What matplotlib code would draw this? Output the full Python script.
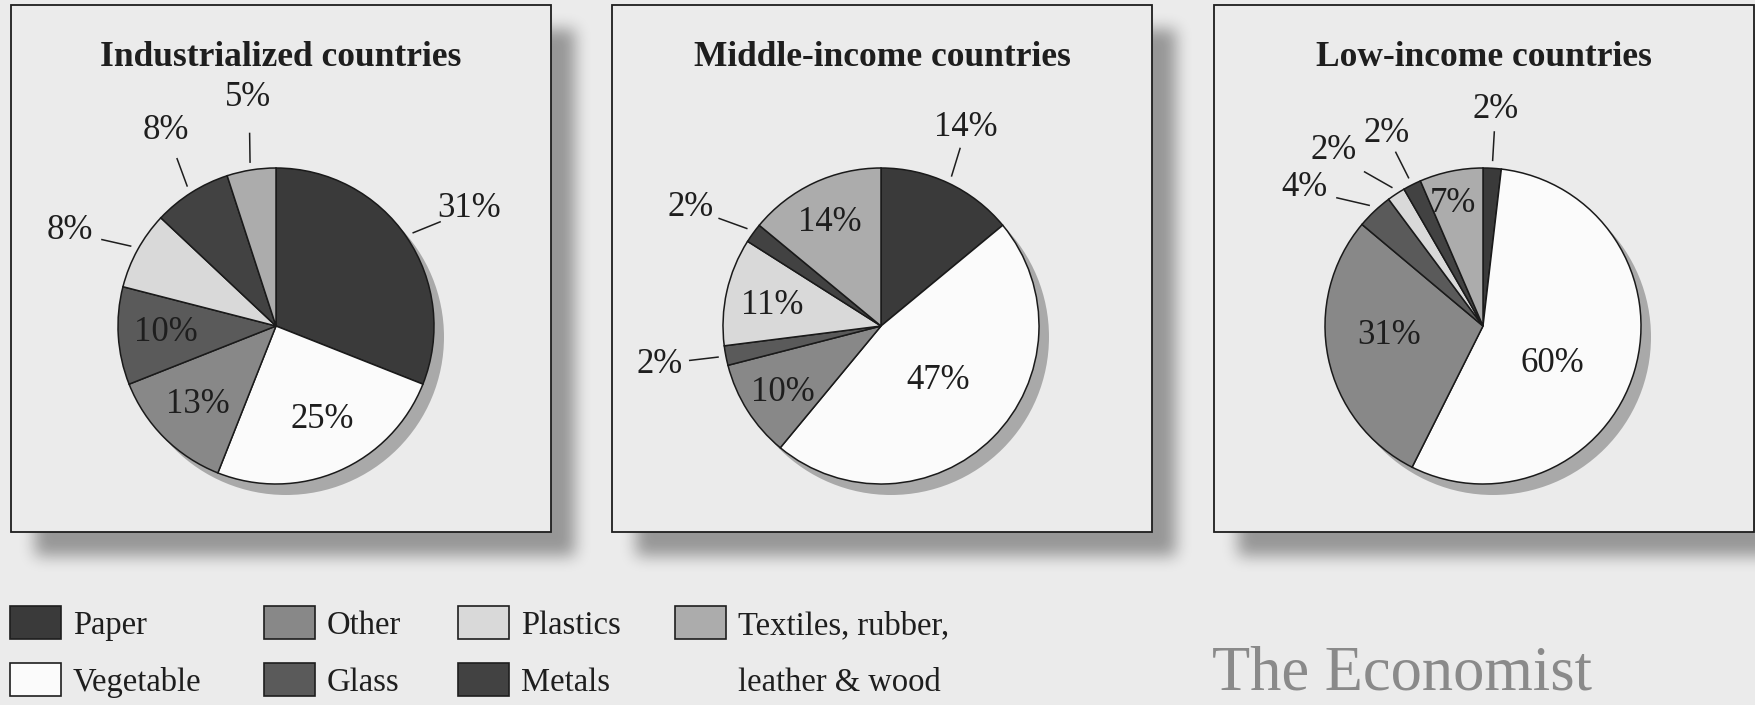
from __future__ import annotations

import matplotlib

matplotlib.use("Agg")
import matplotlib.pyplot as plt
import numpy as np
from matplotlib.patches import Circle, Rectangle

W, H = 1756, 705
BG = "#ebebeb"
INK = "#1e1e1e"

CATEGORIES = ["Paper", "Vegetable", "Other", "Glass", "Plastics", "Metals", "Textiles"]
TITLES = ["Industrialized countries", "Middle-income countries", "Low-income countries"]
INDUSTRIALIZED = [31, 25, 13, 10, 8, 8, 5]
MIDDLE_INCOME = [14, 47, 10, 2, 11, 2, 14]
LOW_INCOME = [2, 60, 31, 4, 2, 2, 7]

LEGEND_TEXT = {
    "Paper": ["Paper"],
    "Vegetable": ["Vegetable"],
    "Other": ["Other"],
    "Glass": ["Glass"],
    "Plastics": ["Plastics"],
    "Metals": ["Metals"],
    "Textiles": ["Textiles, rubber,", "leather & wood"],
}

COLORS = {
    "Paper": "#3a3a3a",
    "Vegetable": "#fbfbfb",
    "Other": "#888888",
    "Glass": "#5a5a5a",
    "Plastics": "#d9d9d9",
    "Metals": "#424242",
    "Textiles": "#acacac",
}

# panel geometry, in pixels from the top-left corner
FRAME_X = [11, 612, 1214]
FRAME_W = 540
FRAME_TOP, FRAME_BOTTOM = 5, 532
PIE_X = [276, 881, 1483]
PIE_Y = 326
PIE_R = 158

# label distance (in radii) and clockwise nudge (deg) for every slice
LABEL_R = [
    [1.43, 0.66, 0.70, 0.70, 1.44, 1.42, 1.46],
    [1.37, 0.50, 0.75, 1.42, 0.70, 1.42, 0.73],
    [1.37, 0.50, 0.60, 1.43, 1.46, 1.36, 0.80],
]
LABEL_NUDGE = [
    [3, -3, 0, 0, -4, 3, 2],
    [-2, -1, -2, 1, -2, -4, -1],
    [0, 12, 6, -9, -7, 0, -2],
]


def py(y: float) -> float:
    return H - y


def box_blur(a: np.ndarray, r: int) -> np.ndarray:
    k = 2 * r + 1
    p = np.pad(a, ((0, 0), (r + 1, r)), mode="edge")
    c = np.cumsum(p, axis=1)
    a = (c[:, k:] - c[:, :-k]) / k
    p = np.pad(a, ((r + 1, r), (0, 0)), mode="edge")
    c = np.cumsum(p, axis=0)
    return (c[k:, :] - c[:-k, :]) / k


def draw_frame_shadows(ax) -> None:
    mask = np.zeros((H, W))
    off = 24
    for x0 in FRAME_X:
        mask[FRAME_TOP + off:FRAME_BOTTOM + off, x0 + off:x0 + FRAME_W + off] = 1.0
    for _ in range(3):
        mask = box_blur(mask, 7)
    rgba = np.zeros((H, W, 4))
    rgba[..., 3] = 0.36 * mask
    ax.imshow(rgba, extent=(0, W, 0, H), origin="upper", zorder=1, interpolation="bilinear")


def draw_panel(ax, i: int, values: list[int]) -> None:
    x0 = FRAME_X[i]
    ax.add_patch(Rectangle((x0, py(FRAME_BOTTOM)), FRAME_W, FRAME_BOTTOM - FRAME_TOP,
                           facecolor=BG, edgecolor=INK, linewidth=1.3, zorder=2))
    ax.text(x0 + FRAME_W / 2, py(66), TITLES[i], ha="center", va="baseline",
            fontsize=25.5, fontweight="bold", color=INK, zorder=5)

    cx, cy = PIE_X[i], py(PIE_Y)
    ax.add_patch(Circle((cx + 10, cy - 11), PIE_R, facecolor="#a9a9a9", edgecolor="none", zorder=3))
    wedges, _ = ax.pie(values, colors=[COLORS[c] for c in CATEGORIES], startangle=90,
                       counterclock=False, center=(cx, cy), radius=PIE_R,
                       wedgeprops=dict(edgecolor="#1a1a1a", linewidth=1.1, zorder=4))

    for w, v, r, nudge in zip(wedges, values, LABEL_R[i], LABEL_NUDGE[i]):
        mid = np.deg2rad((w.theta1 + w.theta2) / 2)
        lab = mid - np.deg2rad(nudge)
        tx = cx + r * PIE_R * np.cos(lab)
        ty = cy + r * PIE_R * np.sin(lab)
        ax.text(tx, ty, f"{v}%", ha="center", va="center", fontsize=25, color=INK, zorder=5)
        if r > 1:
            end = mid - np.deg2rad(nudge) * 0.6
            ax.plot([cx + 1.05 * PIE_R * np.cos(mid), cx + 1.23 * PIE_R * np.cos(end)],
                    [cy + 1.05 * PIE_R * np.sin(mid), cy + 1.23 * PIE_R * np.sin(end)],
                    color=INK, linewidth=1.1, zorder=5)


def draw_legend(ax) -> None:
    columns = [["Paper", "Vegetable"], ["Other", "Glass"], ["Plastics", "Metals"], ["Textiles"]]
    col_x = [10, 264, 458, 675]
    row_top = [606, 663]
    sw_w, sw_h = 51, 33
    for x, cats in zip(col_x, columns):
        for row, cat in enumerate(cats):
            top = row_top[row]
            ax.add_patch(Rectangle((x, py(top + sw_h)), sw_w, sw_h, facecolor=COLORS[cat],
                                   edgecolor=INK, linewidth=1.2, zorder=2))
            for k, line in enumerate(LEGEND_TEXT[cat]):
                base = row_top[row + k] + sw_h - 5
                ax.text(x + sw_w + 12, py(base), line, ha="left", va="baseline",
                        fontsize=23.5, color=INK, zorder=5)


def main() -> None:
    plt.rcParams["font.family"] = ["Liberation Serif", "DejaVu Serif"]
    fig = plt.figure(figsize=(W / 100, H / 100), dpi=100, facecolor=BG)
    ax = fig.add_axes([0, 0, 1, 1])
    ax.set_facecolor(BG)

    draw_frame_shadows(ax)
    for i, values in enumerate([INDUSTRIALIZED, MIDDLE_INCOME, LOW_INCOME]):
        draw_panel(ax, i, values)
    draw_legend(ax)

    ax.text(1212, py(690), "The Economist", ha="left", va="baseline",
            fontsize=45, color="#8a8a8a", zorder=5)

    ax.set_xlim(0, W)
    ax.set_ylim(0, H)
    ax.set_aspect("equal")
    ax.axis("off")
    fig.savefig("out.png", dpi=100, facecolor=BG)
    plt.close(fig)


if __name__ == "__main__":
    main()
